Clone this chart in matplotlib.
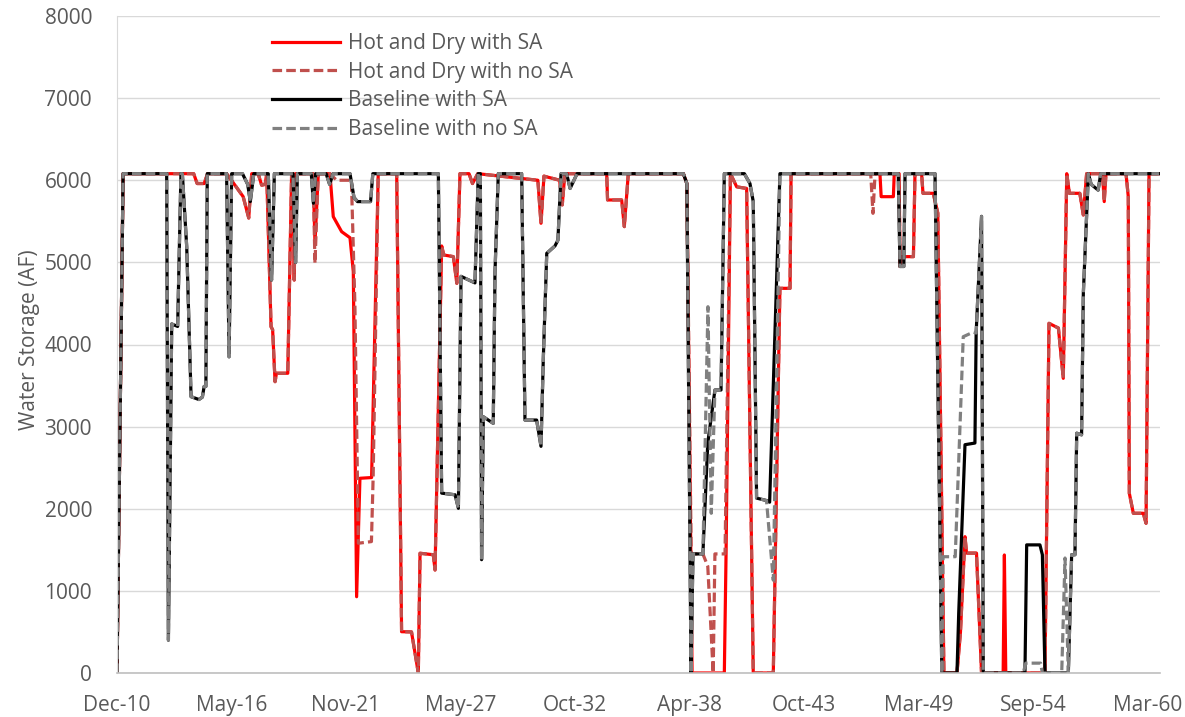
import matplotlib
matplotlib.use("Agg")
import matplotlib.pyplot as plt

plt.rcParams['font.family'] = ['Open Sans', 'DejaVu Sans']

# months since Dec-2010
x_ticks_labels = ["Dec-10", "May-16", "Nov-21", "May-27", "Oct-32",
                  "Apr-38", "Oct-43", "Mar-49", "Sep-54", "Mar-60"]
y_ticks = [0, 1000, 2000, 3000, 4000, 5000, 6000, 7000, 8000]

hd_sa_m = [0, 3.5, 44, 46, 50, 52, 62.9, 67.7, 72.4, 75.6, 77.3, 81, 83, 85, 85.9, 88.4, 89.3, 90.7, 91.5, 98,
           100.2, 101, 101.7, 102.5, 112.5, 113.6, 115.5, 122.2, 124.1, 128.9, 133.7, 135.6, 137.5, 139.4, 146.1,
           149.9, 160.5, 163.3, 169, 172.9, 173.9, 181.5, 182.5, 186.3, 187.5, 193, 195, 196.8, 202, 204, 207,
           241.5, 243.3, 245, 254, 255.5, 257, 281, 281.5, 289.6, 291.1, 293.4, 325, 327, 330, 348.5, 349.5, 352,
           355.6, 361.3, 365.1, 376.6, 380.4, 386.2, 386.8, 437.8, 438.5, 445.5, 446, 448.8, 449.3, 450.3, 457,
           457.9, 461.7, 462.5, 468.4, 471, 474.5, 482, 484, 486.6, 487.5, 493.2, 496.1, 508.5, 509.2, 510, 532.5,
           534.8, 540.2, 543, 545, 546.5, 552.5, 554.5, 556.4, 565.5, 566.5, 567.5, 579, 580.3, 580.9, 583.2, 588.9,
           590.5, 592.2, 598]
hd_sa_v = [0, 6080, 6080, 5960, 5960, 6080, 6080, 5940, 5800, 5540, 6080, 6080, 5940, 5950, 6080, 4217, 4180, 3547, 3650, 3650,
           6080, 6080, 4785, 6080, 6080, 5240, 6080, 6080, 5557, 5374, 5300, 4887, 929, 2371, 2380,
           6080, 6080, 503, 500, 0, 1458, 1440, 1254, 5200, 5090, 5070, 4745, 6080, 6080, 5960, 6080,
           6000, 5476, 6050, 6000, 5700, 6080, 6080, 5760, 5760, 5435, 6080, 6080, 5960, 0, 0, 1460, 6080,
           5920, 5900, 0, 0, 4684, 4684, 6080, 6080, 5800, 5800, 6080, 6080, 4950, 5070, 5070,
           6080, 6080, 5841, 5841, 5600, 0, 0, 500, 1660, 1460, 1460, 0, 0, 1437, 0, 0,
           4258, 4200, 3588, 6080, 5841, 5841, 5577, 6080, 6080, 5740, 6080, 6080, 5800, 2188, 1945, 1945,
           1823, 6080, 6080]

hd_nosa_m = [0, 3.5, 44, 46, 50, 52, 62.9, 67.7, 72.4, 75.6, 77.3, 81, 83, 85, 85.9, 88.4, 89.3, 90.7, 91.5, 98,
             100.2, 101, 101.7, 102.5, 112.5, 113.6, 115.5, 122.2, 126, 134.5, 136.5, 138.5, 146, 147, 149.9,
             160.5, 163.3, 169, 172.9, 173.9, 181.5, 182.5, 186.3, 187.5, 193, 195, 196.8, 202, 204, 207,
             241.5, 243.3, 245, 254, 255.5, 257, 281, 281.5, 289.6, 291.1, 293.4, 325, 327, 329.5, 336.2, 339,
             342.1, 343.1, 348.9, 352, 355.6, 361.3, 365.1, 376.6, 380.4, 386.2, 386.8, 432.5, 433.8, 435,
             448.8, 449.3, 450.3, 457, 457.9, 461.7, 462.5, 468.4, 471, 474.5, 482, 484, 486.6, 487.5, 493.2,
             496.1, 532.5, 534.8, 540.2, 543, 545, 546.5, 552.5, 554.5, 556.4, 565.5, 566.5, 567.5, 579, 580.3,
             580.9, 583.2, 588.9, 590.5, 592.2, 598]
hd_nosa_v = [0, 6080, 6080, 5960, 5960, 6080, 6080, 5940, 5800, 5540, 6080, 6080, 5940, 5950, 6080, 4217, 4180, 3547, 3650, 3650,
             6080, 6080, 4785, 6080, 6080, 4990, 6080, 6080, 6000, 6000, 4500, 1580, 1600, 2400, 6080,
             6080, 503, 500, 0, 1458, 1440, 1254, 5200, 5090, 5070, 4745, 6080, 6080, 5960, 6080,
             6000, 5476, 6050, 6000, 5700, 6080, 6080, 5760, 5760, 5435, 6080, 6080, 5960, 1450, 1450, 1300,
             0, 1450, 1450, 6080, 5920, 5900, 0, 0, 4684, 4684, 6080, 6080, 5597, 6080,
             6080, 4950, 5070, 5070, 6080, 6080, 5841, 5841, 5600, 0, 0, 500, 1660, 1460, 1460,
             0, 0, 4258, 4200, 3588, 6080, 5841, 5841, 5577, 6080, 6080, 5740, 6080, 6080, 5800,
             2188, 1945, 1945, 1823, 6080, 6080]

bl_sa_m = [0, 3.5, 28.5, 29.5, 31.4, 34.8, 36.7, 37.5, 40, 42.5, 47, 49, 50, 51, 51.8, 62.9, 64.3, 65.8, 72, 75,
           76.5, 78.5, 86.8, 88.7, 90.3, 101, 102.5, 103.5, 111.5, 112.7, 114, 120, 122, 124, 133.7, 136, 138,
           145.5, 146.8, 184.4, 186.3, 194, 195.9, 197.4, 205.4, 207.3, 208.5, 209.2, 210.2, 215.9, 216.9, 218.8,
           232.2, 234.1, 240.8, 243.3, 244.6, 246.6, 251.3, 253, 254.8, 258, 260, 264, 325, 327, 329.4, 330.5,
           336.2, 339, 343.1, 346.6, 348.5, 360, 363.2, 365.1, 367, 372.7, 374.5, 380.4, 448.3, 449.3, 451.5,
           452.2, 469.4, 473.3, 482, 483, 486.6, 492.3, 493, 496.1, 497.1, 521, 522, 529.6, 531, 532.5, 545.9,
           547.8, 549.7, 550.7, 553.5, 554.5, 557.4, 559, 563, 564.5, 598]
bl_sa_v = [0, 6080, 6080, 400, 4250, 4220, 6080, 6080, 5190, 3365, 3330, 3360, 3490, 3490, 6080, 6080, 3850, 6080, 6080, 5950,
           5740, 6080, 6080, 4785, 6080, 6080, 5000, 6080, 6080, 5720, 6080, 6080, 5950, 6080, 6080, 5790, 5740,
           5740, 6080, 6080, 2190, 2170, 2005, 4830, 4750, 6080, 6080, 1380, 3120, 3040, 4880, 6080,
           6080, 3080, 3080, 2760, 3810, 5110, 5200, 5270, 6080, 6080, 5900, 6080, 6080, 5960, 0, 1450,
           1450, 2800, 3446, 3446, 6080, 6080, 5960, 5740, 2130, 2100, 2080, 6080, 6080, 4950, 4950,
           6080, 6080, 0, 0, 730, 2780, 2800, 4140, 5560, 0, 0, 1560, 1560, 1440, 0, 0,
           1440, 1440, 2920, 2900, 4620, 6080, 5950, 5880, 6080, 6080]

bl_nosa_m = [0, 3.5, 28.5, 29.5, 31.4, 34.8, 36.7, 37.5, 40, 42.5, 47, 49, 50, 51, 51.8, 62.9, 64.3, 65.8, 72, 75,
             76.5, 78.5, 86.8, 88.7, 90.3, 101, 102.5, 103.5, 111.5, 112.7, 114, 120, 122, 124, 133.7, 136, 138,
             145.5, 146.8, 184.4, 186.3, 194, 195.9, 197.4, 205.4, 207.3, 208.5, 209.2, 210.2, 215.9, 216.9, 218.8,
             232.2, 234.1, 240.8, 243.3, 244.6, 246.6, 251.3, 253, 254.8, 258, 260, 264, 325, 327, 329.4, 330.5,
             336.2, 339.1, 341, 343.1, 346.6, 348.5, 360, 363.2, 365.1, 367, 372.7, 376.6, 380.4, 448.3, 449.3,
             451.5, 452.2, 469.4, 473.3, 474, 481, 485.6, 491.3, 493, 496.1, 497.1, 520, 521.5, 530, 531, 542.1,
             544, 545.9, 547.8, 549.7, 550.7, 553.5, 554.5, 557.4, 559, 563, 564.5, 598]
bl_nosa_v = [0, 6080, 6080, 400, 4250, 4220, 6080, 6080, 5190, 3365, 3330, 3360, 3490, 3490, 6080, 6080, 3850, 6080, 6080, 5950,
             5740, 6080, 6080, 4785, 6080, 6080, 5000, 6080, 6080, 5720, 6080, 6080, 5950, 6080, 6080, 5790, 5740,
             5740, 6080, 6080, 2190, 2170, 2005, 4830, 4750, 6080, 6080, 1380, 3120, 3040, 4880, 6080,
             6080, 3080, 3080, 2760, 3810, 5110, 5200, 5270, 6080, 6080, 5900, 6080, 6080, 5960, 0, 1450,
             1450, 4460, 1945, 3446, 3446, 6080, 6080, 5960, 5740, 2130, 2100, 1130, 6080, 6080, 4950,
             4950, 6080, 6080, 0, 1416, 1416, 4095, 4150, 4140, 5560, 0, 0, 120, 120, 0, 0,
             1400, 0, 1440, 1440, 2920, 2900, 4620, 6080, 5950, 5880, 6080, 6080]

labels = ["Hot and Dry with SA", "Hot and Dry with no SA", "Baseline with SA", "Baseline with no SA"]

fig = plt.figure(figsize=(11.85, 7.17), dpi=100)
ax = fig.add_axes([117 / 1185, 1 - 673 / 717, (1160 - 117) / 1185, (673 - 16) / 717])

lw = 2.3
dash = (3.0, 1.3)
ax.plot(hd_sa_m, hd_sa_v, color='#FF0000', lw=lw, label=labels[0], solid_joinstyle='round')
ax.plot(hd_nosa_m, hd_nosa_v, color='#C0504D', lw=lw, ls=(0, dash), label=labels[1])
ax.plot(bl_sa_m, bl_sa_v, color='#000000', lw=lw, label=labels[2], solid_joinstyle='round')
ax.plot(bl_nosa_m, bl_nosa_v, color='#808080', lw=lw, ls=(0, dash), label=labels[3])

tick_step = 2000 / 30.4375
ax.set_xlim(0, 598.5)
ax.set_xticks([i * tick_step for i in range(len(x_ticks_labels))])
ax.set_xticklabels(x_ticks_labels)
ax.set_ylim(0, 8000)
ax.set_yticks(y_ticks)
ax.set_yticklabels([str(v) for v in y_ticks])

ax.grid(axis='y', color='#D9D9D9', lw=1.0)
ax.set_axisbelow(True)
for s in ['top', 'right']:
    ax.spines[s].set_visible(False)
ax.spines['left'].set_color('#D9D9D9')
ax.spines['bottom'].set_color('#BFBFBF')
ax.spines['bottom'].set_linewidth(1.2)
ax.tick_params(axis='y', length=0, labelsize=15, colors='#595959', pad=18)
ax.tick_params(axis='x', length=0, labelsize=15, colors='#595959', pad=16)
ax.set_ylabel("Water Storage (AF)", fontsize=15, color='#595959')
ax.yaxis.set_label_coords(-0.0738, 0.507)

leg = ax.legend(loc='upper left', bbox_to_anchor=(0.1486, 0.974), frameon=False, fontsize=15,
                handlelength=3.27, handletextpad=0.4, labelspacing=0.37, borderpad=0, borderaxespad=0)
for t in leg.get_texts():
    t.set_color('#595959')

fig.savefig("out.png", dpi=100)
